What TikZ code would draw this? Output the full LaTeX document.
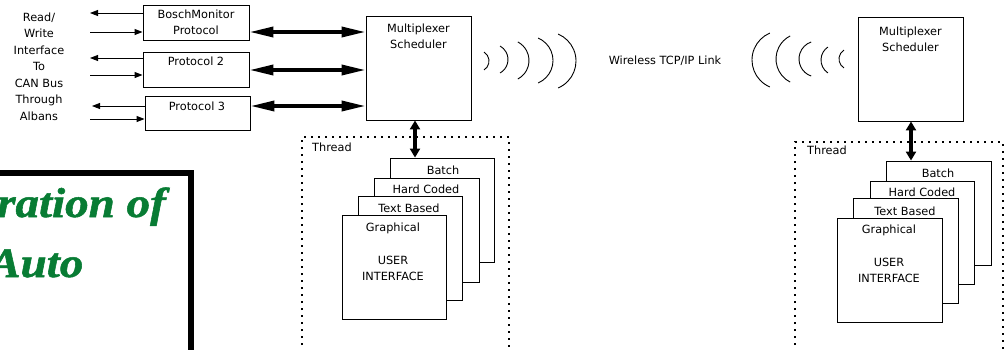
\documentclass[tikz,border=0pt]{standalone}
\usepackage{fontspec}
\setmainfont{DejaVu Sans}
\newfontfamily\titlefont{Liberation Serif}[FakeBold=1.2]
\usetikzlibrary{arrows.meta}
\definecolor{titlegreen}{RGB}{8,124,52}
\begin{document}
\begin{tikzpicture}[x=1pt,y=-1pt,
  box/.style={draw, line width=0.9pt, inner sep=0pt, fill=white, align=center,
    font=\fontsize{11.3}{16.5}\selectfont},
  lbl/.style={inner sep=0pt, align=center, font=\fontsize{11.3}{16.5}\selectfont},
  thinarrow/.style={line width=0.9pt, -{Triangle[length=8pt,width=6pt]}},
  thickarrow/.style={line width=3.5pt, {Triangle[length=24pt,width=10pt]}-{Triangle[length=24pt,width=10pt]}},
  vertarrow/.style={line width=3.5pt, {Triangle[length=9pt,width=10pt]}-{Triangle[length=9pt,width=10pt]}},
  threadbox/.style={line width=1.3pt, dash pattern=on 2pt off 5pt},
  wave/.style={line width=0.9pt},
  titletext/.style={inner sep=0pt, anchor=base west, text=titlegreen,
    font=\titlefont\bfseries\itshape\fontsize{42}{42}\selectfont}]
\useasboundingbox (0,0) rectangle (1005,349);
\clip (0,0) rectangle (1005,349);

% title box (partly off-page)
\draw[line width=6pt] (-20,173) rectangle (191,420);
\node[titletext] (title1) at (-3,217) {\scalebox{1.12}[1]{ration of}};
\node[titletext] (title2) at (-11,277) {\scalebox{1.12}[1]{Auto}};

% left label
\node[lbl] (rw) at (39,66.5) {Read/\\Write\\Interface\\To\\CAN Bus\\Through\\Albans};

% protocol boxes
\node[box, minimum width=106pt, minimum height=35pt] (p1) at (196,22.5) {BoschMonitor\\Protocol};
\node[box, minimum width=106pt, minimum height=35pt] (p2) at (196,69.5) {};
\node[lbl, anchor=base] (p2t) at (196,65) {Protocol 2};
\node[box, minimum width=105pt, minimum height=34pt] (p3) at (197.5,113) {};
\node[lbl, anchor=base] (p3t) at (197,110) {Protocol 3};

% thin arrows
\coordinate (a1l) at (90,13);  \draw[thinarrow] (p1.west |- a1l) -- (a1l);
\coordinate (a1r) at (90,32);  \draw[thinarrow] (a1r) -- (p1.west |- a1r);
\coordinate (a2l) at (90,58);  \draw[thinarrow] (p2.west |- a2l) -- (a2l);
\coordinate (a2r) at (90,75);  \draw[thinarrow] (a2r) -- (p2.west |- a2r);
\coordinate (a3l) at (92,106); \draw[thinarrow] (p3.west |- a3l) -- (a3l);
\coordinate (a3r) at (90,119); \draw[thinarrow] (a3r) -- (p3.west |- a3r);

% multiplexers
\node[box, minimum width=105pt, minimum height=104pt] (mux1) at (418.5,68) {};
\node[lbl] (mux1t) at (418.5,36.5) {Multiplexer\\Scheduler};
\node[box, minimum width=105pt, minimum height=104pt] (mux2) at (910.5,69) {};
\node[lbl] (mux2t) at (910.5,39.5) {Multiplexer\\Scheduler};

% thick arrows
\coordinate (y1) at (0,32);  \draw[thickarrow] (p1.east |- y1) -- (mux1.west |- y1);
\coordinate (y2) at (0,70);  \draw[thickarrow] (p2.east |- y2) -- (mux1.west |- y2);
\coordinate (y3) at (0,106); \draw[thickarrow] (p3.east |- y3) -- (mux1.west |- y3);

% waves
\draw[wave] ([shift={(58:10.6)}]478.4,61) arc[start angle=58, end angle=-58, radius=10.6];
\draw[wave] ([shift={(61:15.4)}]492.6,59.5) arc[start angle=61, end angle=-61, radius=15.4];
\draw[wave] ([shift={(62:21)}]508,60.5) arc[start angle=62, end angle=-62, radius=21];
\draw[wave] ([shift={(67:24.4)}]528.6,60.5) arc[start angle=67, end angle=-67, radius=24.4];
\draw[wave] ([shift={(67:29.25)}]546.75,61) arc[start angle=67, end angle=-67, radius=29.25];

\draw[wave] ([shift={(113:29.25)}]781.25,60) arc[start angle=113, end angle=247, radius=29.25];
\draw[wave] ([shift={(117:25.9)}]801.9,59) arc[start angle=117, end angle=243, radius=25.9];
\draw[wave] ([shift={(109:18)}]817,59) arc[start angle=109, end angle=251, radius=18];
\draw[wave] ([shift={(124:15.6)}]836.6,60) arc[start angle=124, end angle=236, radius=15.6];
\draw[wave] ([shift={(122:10.6)}]849.6,59) arc[start angle=122, end angle=238, radius=10.6];

\node[lbl, anchor=base] (wl) at (665,64) {Wireless TCP/IP Link};

% thread boxes
\draw[threadbox] (302,380) -- (302,137) -- (509,137) -- (509,380);
\node[lbl, anchor=base west] (th1) at (312,151) {Thread};
\draw[threadbox] (795,380) -- (795,142) -- (1003,142) -- (1003,380);
\node[lbl, anchor=base west] (th2) at (807,154) {Thread};

% stack 1
\node[box, minimum width=104pt, minimum height=104pt] (b1) at (442,210) {};
\node[lbl, anchor=base] (b1t) at (443,174) {Batch};
\node[box, minimum width=105pt, minimum height=104pt] (h1) at (426.5,230) {};
\node[lbl, anchor=base] (h1t) at (426,193) {Hard Coded};
\node[box, minimum width=104pt, minimum height=104pt] (t1) at (410,248) {};
\node[lbl, anchor=base] (t1t) at (409,212) {Text Based};
\node[box, minimum width=104pt, minimum height=104pt] (g1) at (394,267) {};
\node[lbl, anchor=base] (g1t) at (393,231) {Graphical};
\node[lbl] (u1) at (393,268.5) {USER\\INTERFACE};

% stack 2
\node[box, minimum width=105pt, minimum height=104pt] (b2) at (938.5,213) {};
\node[lbl, anchor=base] (b2t) at (938,177) {Batch};
\node[box, minimum width=104pt, minimum height=103pt] (h2) at (922,232.5) {};
\node[lbl, anchor=base] (h2t) at (922,196) {Hard Coded};
\node[box, minimum width=105pt, minimum height=105pt] (t2) at (905.5,250.5) {};
\node[lbl, anchor=base] (t2t) at (905,215) {Text Based};
\node[box, minimum width=105pt, minimum height=104pt] (g2) at (889.5,270) {};
\node[lbl, anchor=base] (g2t) at (889,233) {Graphical};
\node[lbl] (u2) at (889,270.5) {USER\\INTERFACE};

% vertical arrows
\coordinate (vx1) at (415,0);
\draw[vertarrow] (mux1.south -| vx1) -- (b1.north -| vx1);
\coordinate (vx2) at (911,0);
\draw[vertarrow] (mux2.south -| vx2) -- (b2.north -| vx2);
\end{tikzpicture}
\end{document}
